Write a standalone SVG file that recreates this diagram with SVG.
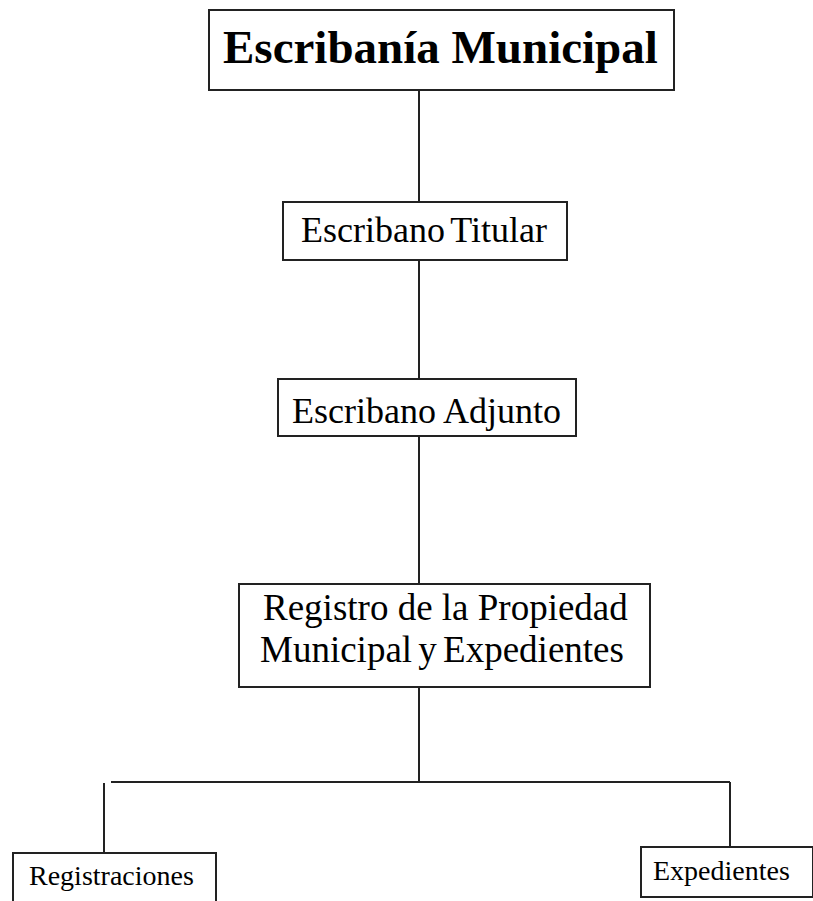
<svg xmlns="http://www.w3.org/2000/svg" width="813" height="901" viewBox="0 0 813 901">
<style>
.box{fill:#fff;stroke:#222;stroke-width:2}
.ln{stroke:#222;stroke-width:2;fill:none}
.t{font-family:"Liberation Serif","Times New Roman",serif;fill:#000}
</style>
<rect width="813" height="901" fill="#fff"/>
<g id="connectors">
<line class="ln" x1="419" y1="90" x2="419" y2="202"/>
<line class="ln" x1="419" y1="260" x2="419" y2="379"/>
<line class="ln" x1="419" y1="436" x2="419" y2="584"/>
<line class="ln" x1="419" y1="687" x2="419" y2="782"/>
<line class="ln" x1="111" y1="782" x2="730" y2="782"/>
<line class="ln" x1="104" y1="783" x2="104" y2="853"/>
<line class="ln" x1="730" y1="782" x2="730" y2="847"/>
</g>
<g id="escribania">
<rect class="box" x="209" y="10" width="465" height="80"/>
<text class="t" x="223" y="63" font-size="47" font-weight="bold">Escribanía Municipal</text>
</g>
<g id="titular">
<rect class="box" x="283" y="202" width="284" height="58"/>
<text class="t" x="301" y="242" font-size="36" word-spacing="-3">Escribano Titular</text>
</g>
<g id="adjunto">
<rect class="box" x="278" y="379" width="298" height="57"/>
<text class="t" x="292" y="423" font-size="36">Escribano Adjunto</text>
</g>
<g id="registro">
<rect class="box" x="239" y="584" width="411" height="103"/>
<text class="t" x="263" y="620" font-size="37">Registro de la Propiedad</text>
<text class="t" x="260" y="662" font-size="37" word-spacing="-3">Municipal y Expedientes</text>
</g>
<g id="registraciones">
<rect class="box" x="13" y="853" width="203" height="60"/>
<text class="t" x="29" y="885" font-size="28">Registraciones</text>
</g>
<g id="expedientes">
<rect class="box" x="641" y="847" width="172" height="50"/>
<text class="t" x="653" y="880" font-size="28">Expedientes</text>
</g>
</svg>
